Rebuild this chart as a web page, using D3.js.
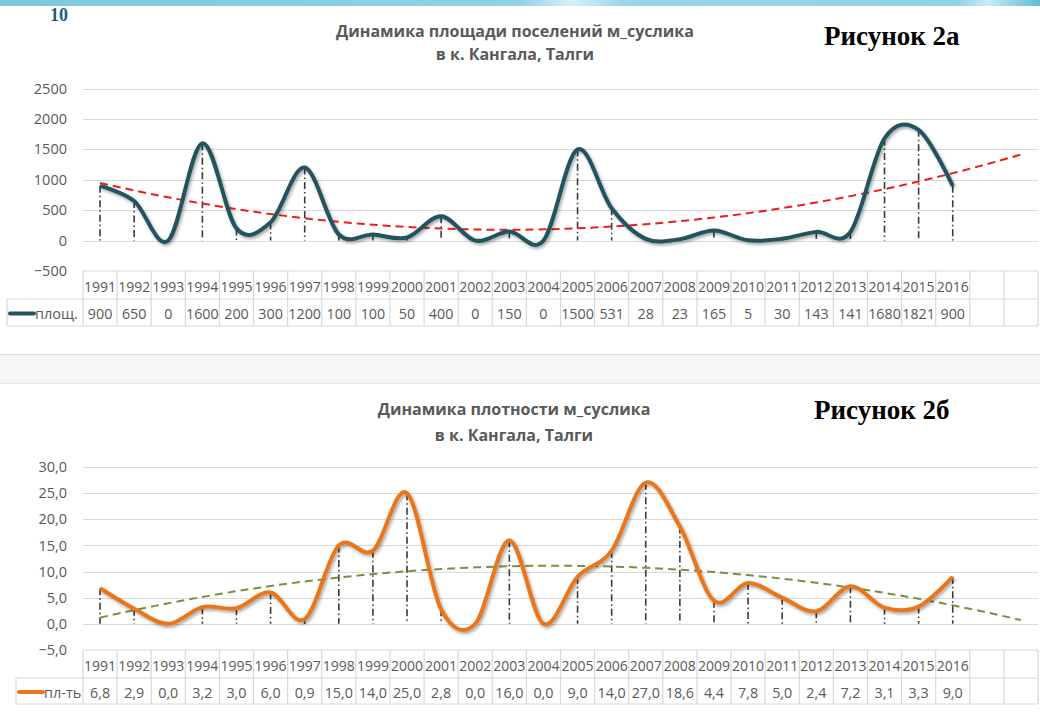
<!DOCTYPE html>
<html><head><meta charset="utf-8">
<script src="https://cdn.jsdelivr.net/npm/d3@7"></script>
<style>body{margin:0;background:#fff;} svg{display:block;}</style>
</head><body>
<svg id="c" width="1040" height="727"></svg>
<script>
// ---------- data ----------
const years = ["1991","1992","1993","1994","1995","1996","1997","1998","1999","2000","2001","2002","2003","2004","2005","2006","2007","2008","2009","2010","2011","2012","2013","2014","2015","2016"];
const areaValues = [900,650,0,1600,200,300,1200,100,100,50,400,0,150,0,1500,531,28,23,165,5,30,143,141,1680,1821,900];
const densityValues = [6.8,2.9,0.0,3.2,3.0,6.0,0.9,15.0,14.0,25.0,2.8,0.0,16.0,0.0,9.0,14.0,27.0,18.6,4.4,7.8,5.0,2.4,7.2,3.1,3.3,9.0];
const areaTicks = [-500,0,500,1000,1500,2000,2500];
const densityTicks = [-5,0,5,10,15,20,25,30];
const forecastColumns = ["+1","+2"];
const areaTitle = ["Динамика площади поселений м_суслика","в к. Кангала, Талги"];
const densityTitle = ["Динамика плотности м_суслика","в к. Кангала, Талги"];
const areaSeriesName = "площ.";
const densitySeriesName = "пл-ть";
const figureA = "Рисунок 2а";
const figureB = "Рисунок 2б";
const pageNumber = "10";

// ---------- helpers ----------
function polyfit2(xs, ys){
  let S=[0,0,0,0,0], T=[0,0,0];
  xs.forEach((x,i)=>{let p=1;for(let k=0;k<5;k++){S[k]+=p;if(k<3)T[k]+=p*ys[i];p*=x;}});
  const A=[[S[0],S[1],S[2],T[0]],[S[1],S[2],S[3],T[1]],[S[2],S[3],S[4],T[2]]];
  for(let i=0;i<3;i++){for(let j=i+1;j<3;j++){const f=A[j][i]/A[i][i];for(let k=i;k<4;k++)A[j][k]-=f*A[i][k];}}
  const c=[0,0,0];
  for(let i=2;i>=0;i--){let s=A[i][3];for(let k=i+1;k<3;k++)s-=A[i][k]*c[k];c[i]=s/A[i][i];}
  return x=>c[0]+c[1]*x+c[2]*x*x;
}
const commaFmt = d => d3.format(".1f")(d).replace(".", ",");
const svg = d3.select("#c");
const defs = svg.append("defs");
const sh = defs.append("filter").attr("id","shadow").attr("x","-5%").attr("y","-10%").attr("width","110%").attr("height","130%");
sh.append("feDropShadow").attr("dx",1.5).attr("dy",2).attr("stdDeviation",1.6).attr("flood-color","#000").attr("flood-opacity",0.35);

// top decorative band
const g1 = defs.append("linearGradient").attr("id","band");
[[0,"#7ec8de"],[0.5,"#8fd2e6"],[0.55,"#d8f0f7"],[0.6,"#9ad6e8"],[0.92,"#8fd2e6"],[0.95,"#c9ebf4"],[1,"#5fbbd6"]].forEach(s=>g1.append("stop").attr("offset",s[0]).attr("stop-color",s[1]));
svg.append("rect").attr("x",0).attr("y",0).attr("width",1040).attr("height",6).attr("fill","url(#band)");

svg.append("text").attr("x",50).attr("y",21).text(pageNumber)
  .attr("font-family","Liberation Serif").attr("font-weight","bold").attr("font-size",18).attr("fill","#1b5f7a");

// separator band
svg.append("rect").attr("x",0).attr("y",354).attr("width",1040).attr("height",29).attr("fill","#f6f6f6");
svg.append("line").attr("x1",0).attr("x2",1040).attr("y1",354.5).attr("y2",354.5).attr("stroke","#dcdcdc");
svg.append("line").attr("x1",0).attr("x2",1040).attr("y1",383.5).attr("y2",383.5).attr("stroke","#e6e6e6");

const font = "Open Sans";
const grey = "#595959";

function drawChart(cfg){
  const cols = years.concat(forecastColumns);
  const x = d3.scaleBand().domain(cols).range([83,1038]);
  const bw = x.bandwidth();
  const cx = c => x(c)+bw/2;
  const y = d3.scaleLinear().domain(cfg.domain).range(cfg.yRange);
  const g = svg.append("g");

  // title
  cfg.title.forEach((t,i)=>g.append("text").attr("x",cfg.titleX).attr("y",cfg.titleY+i*cfg.titleGap)
    .attr("text-anchor","middle").attr("font-family",font).attr("font-weight","bold").attr("font-size",16)
    .attr("fill",grey).text(t));
  g.append("text").attr("x",cfg.figX).attr("y",cfg.figY).text(cfg.figure)
    .attr("font-family","Liberation Serif").attr("font-weight","bold").attr("font-size",27).attr("fill","#000");

  // gridlines
  g.append("g").selectAll("line").data(cfg.ticks.filter(t=>t>=0)).join("line")
    .attr("x1",83).attr("x2",1038).attr("y1",d=>Math.round(y(d))+0.5).attr("y2",d=>Math.round(y(d))+0.5)
    .attr("stroke","#d9d9d9").attr("stroke-width",1.2);

  // y axis
  const ax = g.append("g").attr("transform","translate(83,0)")
    .call(d3.axisLeft(y).tickValues(cfg.ticks).tickSize(0).tickPadding(16).tickFormat(cfg.fmt));
  ax.select(".domain").remove();
  ax.selectAll("text").attr("font-family",font).attr("font-size",14.5).attr("fill",grey);

  // drop lines
  g.append("g").selectAll("line").data(cfg.values.map((v,i)=>[years[i],v]).filter(d=>d[1]!==0)).join("line")
    .attr("x1",d=>cx(d[0])).attr("x2",d=>cx(d[0])).attr("y1",d=>y(d[1])).attr("y2",y(0))
    .attr("stroke","#3a3a3a").attr("stroke-width",1.6).attr("stroke-dasharray","7,3,1.5,3");

  // trend (polynomial, order 2, forecast 2 periods)
  const f = polyfit2(cfg.values.map((v,i)=>i+1), cfg.values);
  const trendPts = cols.map((c,i)=>[cx(c), y(f(i+1))]);
  g.append("path").attr("d",d3.line().curve(d3.curveMonotoneX)(trendPts)).attr("fill","none")
    .attr("stroke",cfg.trendColor).attr("stroke-width",2).attr("stroke-dasharray","8,5");

  // main smoothed line
  g.append("path").attr("d",d3.line().x((v,i)=>cx(years[i])).y(v=>y(v)).curve(d3.curveCardinal.tension(0))(cfg.values))
    .attr("fill","none").attr("stroke",cfg.color).attr("stroke-width",4).attr("stroke-linejoin","round").attr("filter","url(#shadow)");

  // data table
  const t0 = cfg.yRange[0], t1 = t0+cfg.rowH[0], t2 = t1+cfg.rowH[1];
  const tb = g.append("g").attr("stroke","#d9d9d9").attr("stroke-width",1.2);
  tb.append("line").attr("x1",83).attr("x2",1038).attr("y1",t0).attr("y2",t0);
  tb.append("line").attr("x1",cfg.legendX).attr("x2",1038).attr("y1",t1).attr("y2",t1);
  tb.append("line").attr("x1",cfg.legendX).attr("x2",1038).attr("y1",t2).attr("y2",t2);
  tb.selectAll(".v").data(cols.map(c=>x(c)).concat([1038])).join("line")
    .attr("x1",d=>d).attr("x2",d=>d).attr("y1",t0).attr("y2",t2);
  tb.append("line").attr("x1",cfg.legendX).attr("x2",cfg.legendX).attr("y1",t1).attr("y2",t2);

  g.append("g").selectAll("text").data(years).join("text")
    .attr("x",d=>cx(d)).attr("y",(t0+t1)/2+1).attr("dominant-baseline","central").attr("text-anchor","middle")
    .attr("font-family",font).attr("font-size",14).attr("fill",grey).text(d=>d);
  g.append("g").selectAll("text").data(cfg.values).join("text")
    .attr("x",(v,i)=>cx(years[i])).attr("y",(t1+t2)/2+1).attr("dominant-baseline","central").attr("text-anchor","middle")
    .attr("font-family",font).attr("font-size",14.3).attr("fill",grey).text(cfg.valFmt);

  // legend key
  g.append("line").attr("x1",cfg.legendX+3).attr("x2",cfg.legendX+27).attr("y1",(t1+t2)/2+1).attr("y2",(t1+t2)/2+1)
    .attr("stroke",cfg.color).attr("stroke-width",4).attr("stroke-linecap","round");
  g.append("text").attr("x",cfg.legendX+28).attr("y",(t1+t2)/2+1).attr("dominant-baseline","central")
    .attr("font-family",font).attr("font-size",14.5).attr("fill",grey).text(cfg.name);
}

drawChart({values:areaValues, ticks:areaTicks, domain:[-500,2500], yRange:[271,88.5], fmt:d3.format("d"), valFmt:d=>String(d),
  color:"#23535f", trendColor:"#ee1c1c", title:areaTitle, titleX:515, titleY:37, titleGap:23,
  figure:figureA, figX:824, figY:45, rowH:[28,27], legendX:7, name:areaSeriesName});
drawChart({values:densityValues, ticks:densityTicks, domain:[-5,30], yRange:[650,467], fmt:commaFmt, valFmt:commaFmt,
  color:"#e8761e", trendColor:"#76923c", title:densityTitle, titleX:514, titleY:415, titleGap:26,
  figure:figureB, figX:814, figY:419, rowH:[28,26], legendX:16, name:densitySeriesName});
</script>
</body></html>
